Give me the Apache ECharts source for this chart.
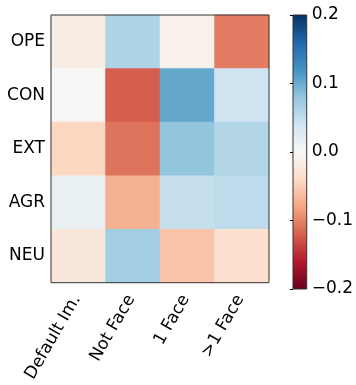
<!DOCTYPE html>
<html>
<head>
<meta charset="utf-8">
<script src="https://cdn.jsdelivr.net/npm/echarts@6/dist/echarts.min.js"></script>
<style>
  html, body { margin: 0; padding: 0; background: #fff; }
  #chart { width: 356px; height: 385px; }
</style>
</head>
<body>
<div id="chart"></div>
<script>
// Trait rows (top to bottom) and image-type columns
const rowNames = ['OPE', 'CON', 'EXT', 'AGR', 'NEU'];
const colNames = ['Default Im.', 'Not Face', '1 Face', '>1 Face'];

// Correlation values per trait, one entry per column
const ope = [-0.016, 0.061, -0.010, -0.104];
const con = [-0.002, -0.121, 0.103, 0.041];
const ext = [-0.043, -0.109, 0.080, 0.059];
const agr = [0.016, -0.071, 0.047, 0.053];
const neu = [-0.023, 0.070, -0.057, -0.034];

// Colour bar range and tick values
const cbMin = -0.2;
const cbMax = 0.2;
const cbTicks = [-0.2, -0.1, 0.0, 0.1, 0.2];

// RdBu diverging palette, low to high
const rdbu = ['#67001f', '#b2182b', '#d6604d', '#f4a582', '#fddbc7', '#f7f7f7',
              '#d1e5f0', '#92c5de', '#4393c3', '#2166ac', '#053061'];

const rows = [ope, con, ext, agr, neu];
const cells = [];
rows.forEach((vals, r) => vals.forEach((v, c) => cells.push([c, r, v])));

const font = 'DejaVu Sans';
const fs = 17;
const frame = '#333';

const chart = echarts.init(document.getElementById('chart'), null, { renderer: 'canvas' });

chart.setOption({
  animation: false,
  backgroundColor: '#fff',
  textStyle: { fontFamily: font },
  grid: [
    { left: 51, top: 15, width: 218, height: 274, show: true,
      borderColor: frame, borderWidth: 1, backgroundColor: 'transparent', z: 5 },
    { left: 293, top: 15, width: 14, height: 274, show: true,
      borderColor: frame, borderWidth: 1,
      backgroundColor: new echarts.graphic.LinearGradient(0, 1, 0, 0,
        rdbu.map((c, i) => ({ offset: i / (rdbu.length - 1), color: c }))) }
  ],
  xAxis: [
    { type: 'category', gridIndex: 0, data: colNames, position: 'bottom',
      axisLine: { show: false },
      axisTick: { show: true, inside: true, alignWithLabel: true, length: 4,
                  lineStyle: { color: '#000', width: 1 } },
      axisLabel: { rotate: 60, margin: 11, padding: [0, 3, 0, 0], color: '#000',
                   fontSize: fs, fontFamily: font },
      splitLine: { show: false } },
    { type: 'category', gridIndex: 0, data: colNames, position: 'top',
      axisLine: { show: false },
      axisTick: { show: true, inside: true, alignWithLabel: true, length: 4,
                  lineStyle: { color: '#000', width: 1 } },
      axisLabel: { show: false }, splitLine: { show: false } },
    { type: 'value', gridIndex: 1, min: 0, max: 1, show: false }
  ],
  yAxis: [
    { type: 'category', gridIndex: 0, data: rowNames, inverse: true, position: 'left',
      axisLine: { show: false },
      axisTick: { show: true, inside: true, alignWithLabel: true, length: 4,
                  lineStyle: { color: '#000', width: 1 } },
      axisLabel: { margin: 6, color: '#000', fontSize: fs, fontFamily: font },
      splitLine: { show: false } },
    { type: 'category', gridIndex: 0, data: rowNames, inverse: true, position: 'right',
      axisLine: { show: false },
      axisTick: { show: true, inside: true, alignWithLabel: true, length: 4,
                  lineStyle: { color: '#000', width: 1 } },
      axisLabel: { show: false }, splitLine: { show: false } },
    { type: 'value', gridIndex: 1, min: cbMin, max: cbMax, interval: 0.1, position: 'right',
      axisLine: { show: false },
      axisTick: { show: true, inside: true, length: 3,
                  lineStyle: { color: '#000', width: 1 } },
      axisLabel: { margin: 5, color: '#000', fontSize: fs, fontFamily: font,
                   formatter: v => {
                     const t = cbTicks.find(x => Math.abs(x - v) < 1e-9);
                     if (t === undefined) return '';
                     return (t < 0 ? '\u2212' : '') + Math.abs(t).toFixed(1);
                   } },
      splitLine: { show: false } }
  ],
  visualMap: {
    type: 'continuous', min: cbMin, max: cbMax, show: false, seriesIndex: 0,
    inRange: { color: rdbu }
  },
  series: [
    { type: 'heatmap', xAxisIndex: 0, yAxisIndex: 0, data: cells,
      itemStyle: { borderWidth: 0 }, emphasis: { disabled: true } }
  ]
});
</script>
</body>
</html>
